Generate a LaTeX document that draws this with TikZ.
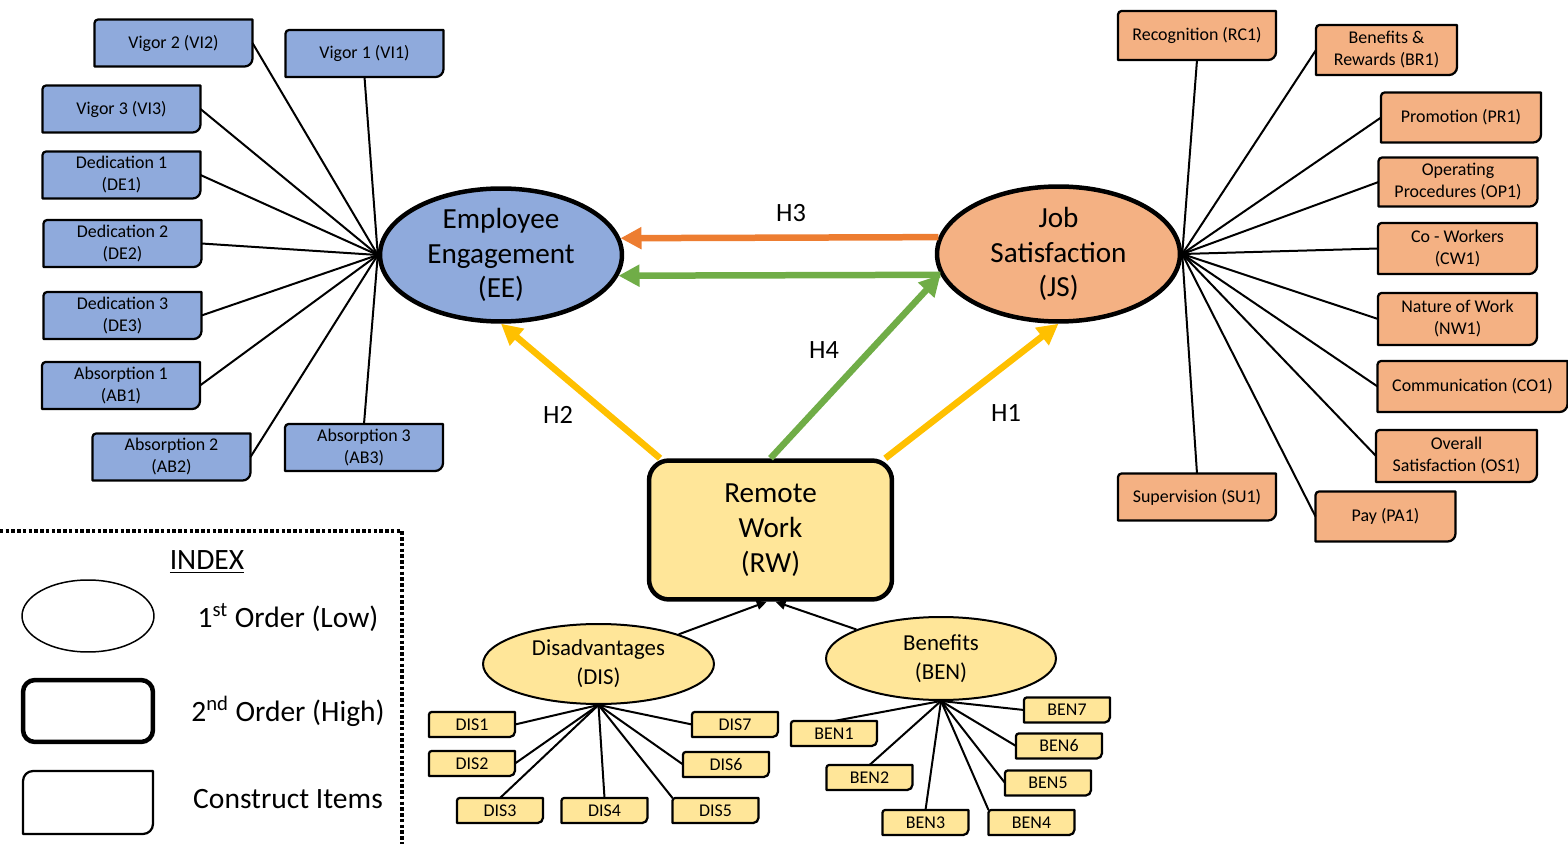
\documentclass[tikz,border=0pt]{standalone}
\usepackage{fontspec}
\setmainfont{Carlito}
\usetikzlibrary{shapes.geometric,arrows.meta,backgrounds}
\definecolor{eeblue}{HTML}{8FAADC}
\definecolor{jsorange}{HTML}{F4B183}
\definecolor{rwyellow}{HTML}{FFE699}
\definecolor{hthree}{HTML}{ED7D31}
\definecolor{hgreen}{HTML}{70AD47}
\definecolor{hyellow}{HTML}{FFC000}
\tikzset{
  item/.style={inner sep=0pt, outer sep=0pt, align=center, font=\fontsize{10.2}{12.5}\selectfont, minimum width=3.16cm, minimum height=0.94cm},
  smallitem/.style={item, minimum width=1.72cm, minimum height=0.5cm},
  itemline/.style={line width=0.045cm, line join=round},
  lower/.style={ellipse, draw, line width=0.04cm, inner sep=0pt, align=center, font=\fontsize{13}{16.4}\selectfont},
  upper/.style={ellipse, draw, line width=0.09cm, inner sep=0pt, align=center, font=\fontsize{16.6}{19.8}\selectfont, minimum width=4.84cm, minimum height=2.66cm},
  higher/.style={rectangle, rounded corners=0.4cm, draw, line width=0.09cm, align=center, font=\fontsize{16.6}{19.8}\selectfont},
  spoke/.style={line width=0.04cm},
  hyp/.style={line width=0.13cm, -{Triangle[length=0.42cm, width=0.42cm]}},
  subarrow/.style={line width=0.04cm, -{Triangle[length=0.2cm, width=0.18cm]}},
  hlabel/.style={font=\fontsize{15}{18}\selectfont},
  keytext/.style={font=\fontsize{16.8}{20}\selectfont},
  legendline/.style={line width=0.07cm, dash pattern=on 0.07cm off 0.045cm}
}
\newcommand{\itemshape}[4]{%
  \draw[itemline, fill=#2] ([yshift=-#3]#1.north west) arc[start angle=180, end angle=90, radius=#3]
    -- (#1.north east) -- ([yshift=#4]#1.south east) arc[start angle=0, end angle=-90, radius=#4]
    -- (#1.south west) -- cycle;}

\begin{document}
\begin{tikzpicture}[x=0.02cm, y=0.02cm]
\useasboundingbox (0,0) rectangle (1568,-844);

\node[upper, fill=eeblue] (ee) at (501,-255) {Employee\\Engagement\\(EE)};
\node[upper, fill=jsorange, minimum width=4.86cm, minimum height=2.7cm] (js) at (1058.5,-254) {Job\\Satisfaction\\(JS)};
\node[higher, fill=rwyellow, minimum width=4.86cm, minimum height=2.78cm] (rw) at (770.5,-530) {Remote\\Work\\(RW)};
\node[lower, fill=rwyellow, minimum width=4.62cm, minimum height=1.6cm] (dis) at (598.5,-664) {Disadvantages\\(DIS)};
\node[lower, fill=rwyellow, minimum width=4.6cm, minimum height=1.66cm] (ben) at (941,-658.5) {Benefits\\(BEN)};

\node[item] (vi2) at (173.5,-43) {Vigor 2 (VI2)};
\node[item] (vi1) at (364.5,-53.5) {Vigor 1 (VI1)};
\node[item] (vi3) at (121.5,-109) {Vigor 3 (VI3)};
\node[item] (de1) at (121.5,-175) {Dedication 1\\(DE1)};
\node[item] (de2) at (122.5,-243.5) {Dedication 2\\(DE2)};
\node[item] (de3) at (122.5,-315.5) {Dedication 3\\(DE3)};
\node[item] (ab1) at (121,-385.5) {Absorption 1\\(AB1)};
\node[item] (ab2) at (171.5,-457) {Absorption 2\\(AB2)};
\node[item] (ab3) at (364,-447.5) {Absorption 3\\(AB3)};

\node[item, minimum height=0.98cm] (rc1) at (1197,-35.5) {Recognition (RC1)};
\node[item, minimum width=2.82cm, minimum height=1cm] (br1) at (1386.5,-50) {Benefits \&\\Rewards (BR1)};
\node[item, minimum width=3.2cm, minimum height=1cm] (pr1) at (1461,-117.5) {Promotion (PR1)};
\node[item, minimum width=3.18cm, minimum height=0.98cm] (op1) at (1458,-182) {Operating\\Procedures (OP1)};
\node[item, minimum width=3.18cm, minimum height=1.02cm] (cw1) at (1457.5,-248.5) {Co - Workers\\(CW1)};
\node[item, minimum width=3.18cm, minimum height=1.04cm] (nw1) at (1457.5,-319) {Nature of Work\\(NW1)};
\node[item, minimum width=3.8cm, minimum height=1.02cm] (co1) at (1472.5,-386.5) {Communication (CO1)};
\node[item, minimum width=3.22cm, minimum height=1.04cm] (os1) at (1456.5,-456) {Overall\\Satisfaction (OS1)};
\node[item] (su1) at (1197,-497) {Supervision (SU1)};
\node[item, minimum width=2.8cm, minimum height=1cm] (pa1) at (1385.5,-516.5) {Pay (PA1)};

\node[smallitem] (dis1) at (472,-724.5) {DIS1};
\node[smallitem] (dis2) at (472,-763.5) {DIS2};
\node[smallitem] (dis3) at (500,-810.5) {DIS3};
\node[smallitem] (dis4) at (604.5,-810.5) {DIS4};
\node[smallitem] (dis5) at (715.5,-810.5) {DIS5};
\node[smallitem] (dis6) at (726,-764.5) {DIS6};
\node[smallitem] (dis7) at (735,-724.5) {DIS7};
\node[smallitem] (ben1) at (834,-733.5) {BEN1};
\node[smallitem] (ben2) at (869.5,-777.5) {BEN2};
\node[smallitem] (ben3) at (925.5,-822.5) {BEN3};
\node[smallitem] (ben4) at (1031.5,-822.5) {BEN4};
\node[smallitem] (ben5) at (1048,-783) {BEN5};
\node[smallitem] (ben6) at (1059,-746) {BEN6};
\node[smallitem] (ben7) at (1067,-710) {BEN7};

\node[keytext] (index) at (207,-562) {\underline{INDEX}};
\node[ellipse, draw, line width=0.03cm, minimum width=2.64cm, minimum height=1.44cm] (lowkey) at (88,-616) {};
\node[rectangle, rounded corners=0.24cm, draw, line width=0.09cm, minimum width=2.6cm, minimum height=1.24cm] (highkey) at (88,-711) {};
\node[item, minimum width=2.6cm, minimum height=1.26cm] (constructkey) at (88,-802.5) {};
\node[keytext] (lowtext) at (288,-618) {1\textsuperscript{st} Order (Low)};
\node[keytext] (hightext) at (288,-711) {2\textsuperscript{nd} Order (High)};
\node[keytext] (constructtext) at (288,-799) {Construct Items};
\draw[legendline] (0,-531) -| (402,-844);

\begin{pgfonlayer}{background}
\foreach \n in {vi1,vi2,vi3,de1,de2,de3,ab1,ab2,ab3} {\itemshape{\n}{eeblue}{2pt}{4.5pt}}
\foreach \n in {rc1,br1,pr1,op1,cw1,nw1,co1,os1,su1,pa1} {\itemshape{\n}{jsorange}{2pt}{4.5pt}}
\foreach \n in {dis1,dis2,dis3,dis4,dis5,dis6,dis7,ben1,ben2,ben3,ben4,ben5,ben6,ben7} {\itemshape{\n}{rwyellow}{1.5pt}{3pt}}
\itemshape{constructkey}{white}{0.2cm}{0.2cm}
\end{pgfonlayer}

\foreach \n/\a in {vi2/east,vi1/south,vi3/east,de1/east,de2/east,de3/east,ab1/east,ab2/east,ab3/north}
  \draw[spoke] (ee.west) -- (\n.\a);
\foreach \n/\a in {rc1/south,br1/west,pr1/west,op1/west,cw1/west,nw1/west,co1/west,os1/west,pa1/west,su1/north}
  \draw[spoke] (js.east) -- (\n.\a);
\foreach \n/\a in {dis1/east,dis2/east,dis3/north,dis4/north,dis5/north west,dis6/west,dis7/west}
  \draw[spoke] (dis.south) -- (\n.\a);
\foreach \n/\a in {ben1/north,ben2/north,ben3/north,ben4/north west,ben5/west,ben6/west,ben7/west}
  \draw[spoke] (ben.south) -- (\n.\a);

\draw[hyp, hthree] (js.172) -- (ee.8);
\draw[hyp, hgreen] (js.190) -- (ee.-10);
\draw[hyp, hgreen] (rw.north) -- (js.190);
\draw[hyp, hyellow] (rw.147) -- (ee.south);
\draw[hyp, hyellow] (rw.32) -- (js.south);
\draw[subarrow] (dis) -- (rw.-93.5);
\draw[subarrow] (ben) -- (rw.-86.5);

\node[hlabel] (h3) at (791,-213) {H3};
\node[hlabel] (h4) at (824,-350) {H4};
\node[hlabel] (h2) at (558,-415) {H2};
\node[hlabel] (h1) at (1006,-413) {H1};
\end{tikzpicture}
\end{document}
